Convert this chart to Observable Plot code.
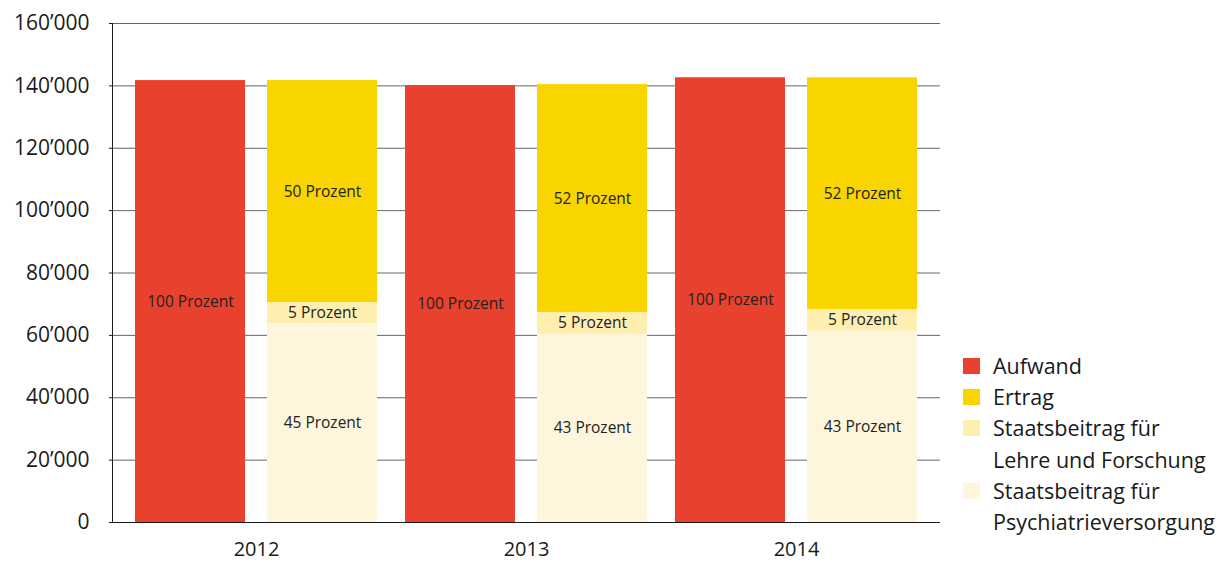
<!DOCTYPE html>
<html><head><meta charset="utf-8">
<script src="https://cdn.jsdelivr.net/npm/d3@7"></script>
<script src="https://cdn.jsdelivr.net/npm/@observablehq/plot@0.6"></script>
<style>
body{margin:0;background:#fff;font-family:"Open Sans",sans-serif;}
#wrap{position:relative;width:1219px;height:562px;}
#legend{position:absolute;left:963px;top:350px;font-size:21.5px;color:#1a1a1a;line-height:31.2px;white-space:nowrap;}
.row{display:flex;align-items:flex-start;}
.sw{width:17px;height:16px;margin-right:13px;margin-top:8px;flex:none;}
</style></head>
<body><div id="wrap"><div id="chart"></div><div id="legend"></div></div>
<script>
const years = ["2012", "2013", "2014"];
const aufwand = [141700, 140100, 142600];
const ertrag = [71200, 73100, 74300];
const lehre = [6700, 7000, 7000];
const psych = [63800, 60300, 61300];
const aufwandPct = [100, 100, 100];
const ertragPct = [50, 52, 52];
const lehrePct = [5, 5, 5];
const psychPct = [45, 43, 43];
const yTicks = [0, 20000, 40000, 60000, 80000, 100000, 120000, 140000, 160000];
const categories = ["Aufwand", "Ertrag", "Staatsbeitrag für Lehre und Forschung", "Staatsbeitrag für Psychiatrieversorgung"];
const colors = ["#E8412E", "#F9D500", "#FEEEB0", "#FEF6DC"];
const legendLines = [["Aufwand"], ["Ertrag"], ["Staatsbeitrag für", "Lehre und Forschung"], ["Staatsbeitrag für", "Psychiatrieversorgung"]];

const fmt = d => d3.format(",")(d).replace(/,/g, "\u2019");

const aufRows = years.map((y, i) => ({year: y, cat: categories[0], value: aufwand[i], pct: aufwandPct[i]}));
const stackRows = [];
years.forEach((y, i) => {
  stackRows.push({year: y, cat: categories[3], value: psych[i], pct: psychPct[i]});
  stackRows.push({year: y, cat: categories[2], value: lehre[i], pct: lehrePct[i]});
  stackRows.push({year: y, cat: categories[1], value: ertrag[i], pct: ertragPct[i]});
});

const chart = Plot.plot({
  width: 1219, height: 562,
  marginLeft: 112, marginRight: 279, marginTop: 23, marginBottom: 40,
  style: {fontFamily: "'Open Sans', sans-serif", fontSize: "20px", color: "#1a1a1a", background: "#fff"},
  x: {domain: years, paddingInner: 0, paddingOuter: 0.0333, label: null},
  y: {domain: [0, 160000], label: null},
  color: {domain: categories, range: colors},
  marks: [
    Plot.gridY(yTicks, {stroke: "#666", strokeOpacity: 1}),
    Plot.barY(aufRows, {x: "year", y: "value", fill: "cat", insetLeft: 14, insetRight: 146}),
    Plot.barY(stackRows, {x: "year", y: "value", fill: "cat", insetLeft: 146, insetRight: 14}),
    Plot.text(aufRows, Plot.stackY({x: "year", y: "value", text: d => `${d.pct} Prozent`, dx: -66, fontSize: 15.5, fill: "#222"})),
    Plot.text(stackRows, Plot.stackY({x: "year", y: "value", text: d => `${d.pct} Prozent`, dx: 66, fontSize: 15.5, fill: "#222"})),
    Plot.ruleY([0], {stroke: "#1a1a1a"}),
    Plot.frame({anchor: "left", stroke: "#1a1a1a"}),
    Plot.axisY(yTicks, {tickSize: 3, tickPadding: 20, tickFormat: fmt, fontSize: 21, label: null}),
    Plot.axisX({tickSize: 0, tickPadding: 19.5, fontSize: 20, label: null})
  ]
});
document.getElementById("chart").appendChild(chart);

const legend = document.getElementById("legend");
categories.forEach((c, i) => {
  legendLines[i].forEach((line, j) => {
    const row = document.createElement("div");
    row.className = "row";
    const sw = document.createElement("div");
    sw.className = "sw";
    sw.style.background = j === 0 ? colors[i] : "transparent";
    const t = document.createElement("span");
    t.textContent = line;
    row.appendChild(sw);
    row.appendChild(t);
    legend.appendChild(row);
  });
});
</script>
</body></html>
